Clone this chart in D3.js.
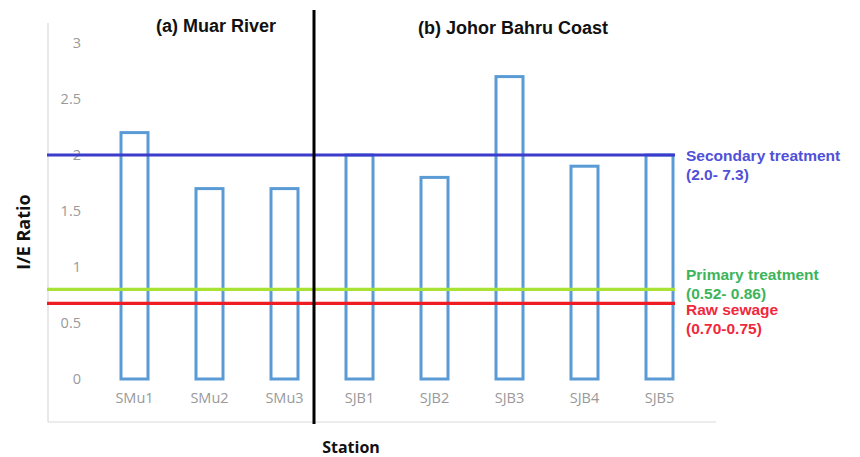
<!DOCTYPE html>
<html><head><meta charset="utf-8">
<script src="https://cdn.jsdelivr.net/npm/d3@7"></script>
<style>body{margin:0;background:#fff}svg{display:block}</style>
</head><body>
<svg id="c" width="860" height="457"></svg>
<script>
const stations = ["SMu1","SMu2","SMu3","SJB1","SJB2","SJB3","SJB4","SJB5"];
const ieRatio = [2.2,1.7,1.7,2.0,1.8,2.7,1.9,2.0];
const yTicks = [0,0.5,1,1.5,2,2.5,3];
const refNames = ["Secondary treatment","Primary treatment","Raw sewage"];
const refRanges = ["(2.0- 7.3)","(0.52- 0.86)","(0.70-0.75)"];
const refValues = [2.0,0.8,0.675];
const refColors = ["#3b3bcc","#a8e234","#f01c24"];
const refTextColors = ["#5050d8","#3cb45a","#f0283c"];
const panelTitles = ["(a) Muar River","(b) Johor Bahru Coast"];

const svg = d3.select("#c");
const x = d3.scaleBand().domain(stations).range([97,697]).paddingInner(0.6).paddingOuter(0.3);
const y = d3.scaleLinear().domain([0,3]).range([379,43]);

// frame
svg.append("line").attr("x1",48).attr("x2",48).attr("y1",23).attr("y2",422).attr("stroke","#d9d9d9").attr("stroke-width",1.2);
svg.append("line").attr("x1",48).attr("x2",716).attr("y1",422).attr("y2",422).attr("stroke","#d9d9d9").attr("stroke-width",1.2);

// y axis ticks
const yAxis = d3.axisLeft(y).tickValues(yTicks).tickSize(0).tickPadding(0).tickFormat(d=>d3.format("")(d));
const ga = svg.append("g").attr("transform","translate(81,0)").call(yAxis);
ga.select(".domain").remove();
ga.selectAll("text").attr("fill","#999").style("font-family","'Open Sans',sans-serif").style("font-size","14.5px");

// x labels
const xAxis = d3.axisBottom(x).tickSize(0).tickPadding(0);
const gx = svg.append("g").attr("transform","translate(0,393)").call(xAxis);
gx.select(".domain").remove();
gx.selectAll("text").attr("fill","#999").style("font-family","'Open Sans',sans-serif").style("font-size","14.5px");

// bars
svg.selectAll("rect.bar").data(stations).enter().append("rect")
  .attr("class","bar")
  .attr("x",d=>x(d)+1.5).attr("width",x.bandwidth()-3)
  .attr("y",(d,i)=>y(ieRatio[i])).attr("height",(d,i)=>y(0)-y(ieRatio[i]))
  .attr("fill","#fff").attr("stroke","#5b9bd5").attr("stroke-width",3);

// reference lines
refValues.forEach((v,i)=>{
  svg.append("line").attr("x1",47).attr("x2",675).attr("y1",y(v)).attr("y2",y(v))
    .attr("stroke",refColors[i]).attr("stroke-width",3.2);
});

// vertical divider
svg.append("line").attr("x1",314).attr("x2",314).attr("y1",10).attr("y2",424).attr("stroke","#000").attr("stroke-width",3);

// panel titles
const tf = "'Liberation Sans',Arial,sans-serif";
svg.append("text").attr("x",216).attr("y",32).attr("text-anchor","middle").attr("font-family",tf).attr("font-weight","bold").attr("font-size","18px").attr("fill","#111").text(panelTitles[0]);
svg.append("text").attr("x",513).attr("y",34).attr("text-anchor","middle").attr("font-family",tf).attr("font-weight","bold").attr("font-size","18px").attr("fill","#111").text(panelTitles[1]);

// ref labels
const labY = [[161,180],[280,299],[315,334]];
refNames.forEach((n,i)=>{
  svg.append("text").attr("x",686).attr("y",labY[i][0]).attr("font-family",tf).attr("font-weight","bold").attr("font-size","15.5px").attr("fill",refTextColors[i]).text(n);
  svg.append("text").attr("x",686).attr("y",labY[i][1]).attr("font-family",tf).attr("font-weight","bold").attr("font-size","15.5px").attr("fill",refTextColors[i]).text(refRanges[i]);
});

// axis titles
svg.append("text").attr("transform","translate(30,232) rotate(-90)").attr("text-anchor","middle").attr("font-family","'Open Sans',sans-serif").attr("font-weight","bold").attr("font-size","18px").attr("fill","#111").text("I/E Ratio");
svg.append("text").attr("x",351).attr("y",453).attr("text-anchor","middle").attr("font-family","'Open Sans',sans-serif").attr("font-weight","bold").attr("font-size","16px").attr("fill","#111").text("Station");
</script>
</body></html>
